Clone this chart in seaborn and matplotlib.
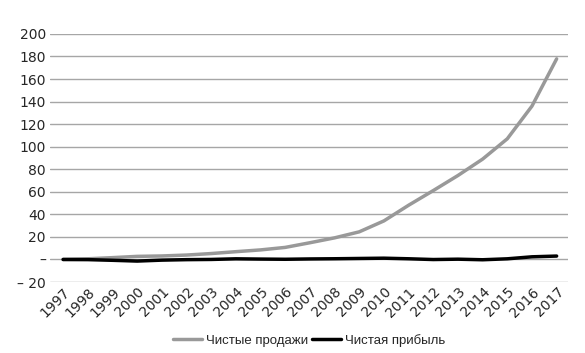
import matplotlib
matplotlib.use('Agg')
import pandas as pd
import matplotlib.pyplot as plt
import seaborn as sns

# Данные (млрд долл.)
years = list(range(1997, 2018))
net_sales = [0.15, 0.61, 1.64, 2.76, 3.12, 3.93, 5.26, 6.92, 8.49, 10.71, 14.84,
             19.17, 24.51, 34.2, 48.08, 61.09, 74.45, 88.99, 107.0, 135.99, 177.87]
net_income = [-0.03, -0.12, -0.72, -1.41, -0.57, -0.15, 0.04, 0.59, 0.36, 0.19, 0.48,
              0.65, 0.9, 1.15, 0.63, -0.04, 0.27, -0.24, 0.6, 2.37, 3.03]
series_names = ['Чистые продажи', 'Чистая прибыль']
y_ticks = list(range(-20, 201, 20))
y_labels = ['– 20', '–'] + [str(v) for v in y_ticks[2:]]

df = pd.DataFrame({'year': years * 2,
                   'value': net_sales + net_income,
                   'series': [series_names[0]] * len(years) + [series_names[1]] * len(years)})

sns.set_style('white')
plt.rcParams['font.family'] = ['DejaVu Sans']

fig = plt.figure(figsize=(5.85, 3.53), dpi=100)
ax = fig.add_axes([0.0855, 0.201, 0.885, 0.703])
sns.lineplot(data=df, x='year', y='value', hue='series',
             palette={series_names[0]: '#999999', series_names[1]: '#000000'},
             linewidth=2.5, ax=ax)

ax.set_ylim(-20, 200)
ax.set_xlim(1996.47, 2017.45)
ax.set_yticks(y_ticks)
ax.set_yticklabels(y_labels, fontsize=10)
ax.set_xticks(years)
ax.set_xticklabels([str(y) for y in years], rotation=45, ha='right',
                   rotation_mode='anchor', fontsize=10)
ax.tick_params(axis='x', length=0, pad=2)
ax.tick_params(axis='y', length=0, pad=3)
ax.grid(axis='y', color='#a6a6a6', linewidth=1)
ax.set_axisbelow(True)
for s in ax.spines.values():
    s.set_visible(False)
ax.set_xlabel('')
ax.set_ylabel('')

ax.legend(loc='center', bbox_to_anchor=(0.5, -0.234), ncol=2, frameon=False,
          prop={'family': 'Liberation Sans', 'size': 9.5},
          handlelength=2.2, handletextpad=0.3, columnspacing=0.3,
          borderpad=0)

fig.savefig('out.png', dpi=100)
plt.close()
